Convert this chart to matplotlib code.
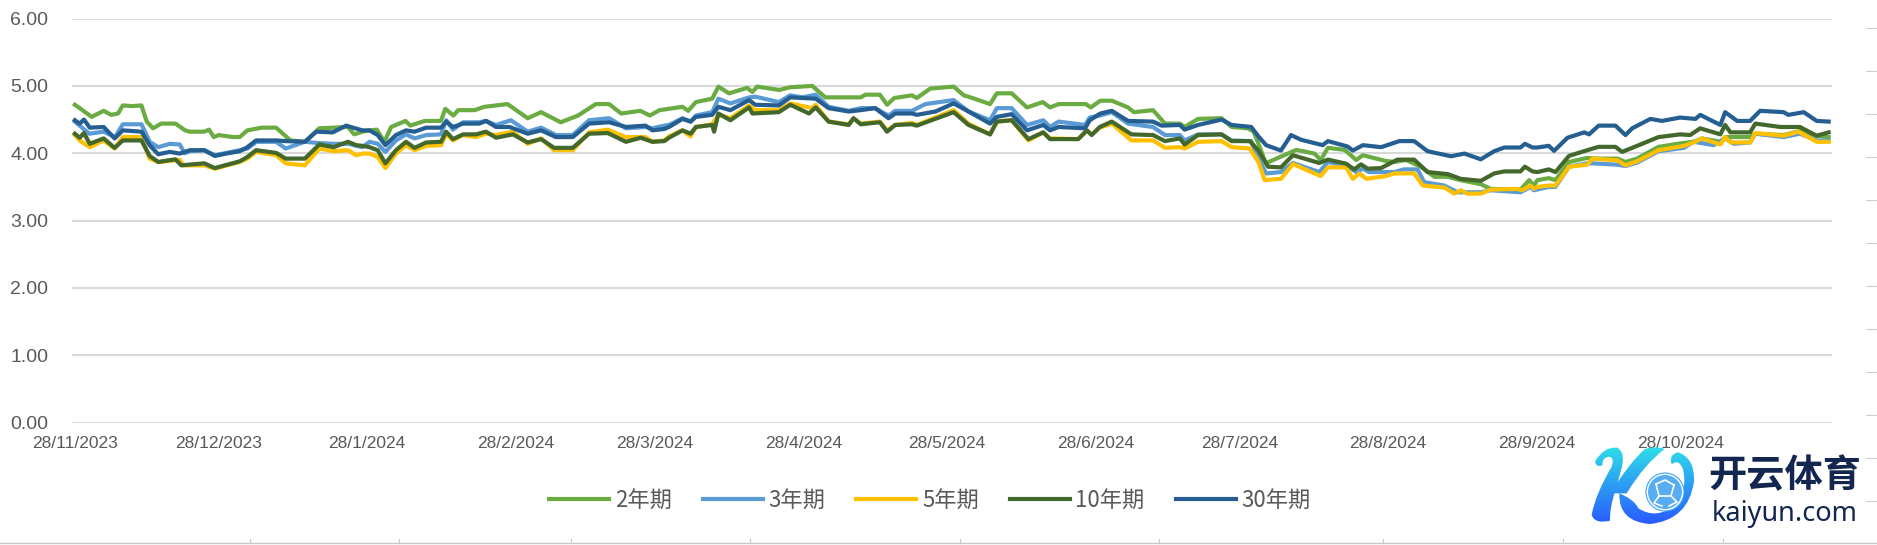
"""
Chinese treasury yields, Nov 2023 - Nov 2024, all tenors on one date axis.
"""
import datetime as dt

import matplotlib
matplotlib.use("Agg")
import matplotlib.dates as mdates
import matplotlib.pyplot as plt
import numpy as np
from matplotlib.lines import Line2D
from matplotlib.patches import Circle, PathPatch
from matplotlib.path import Path

START = dt.date(2023, 11, 28)

# days since START / yield in %
days_2y = [0, 1.4, 3.5, 6, 7.6, 9, 10, 12, 13.9, 15, 16.3, 18, 21, 23, 24, 27, 28, 29, 30, 33, 34.4, 36, 39, 42, 45, 48, 51, 54, 57, 58.3, 60,
           61.5, 63, 64.6, 66, 69, 70, 73, 76.4, 77.3, 79, 80, 83.4, 85.5, 90.3, 94.5, 97.3, 101.4, 105, 108.7, 111.5, 114, 118, 120, 122,
           124, 126.8, 128, 129.6, 133, 134.3, 136.5, 140.3, 141.4, 142.4, 147, 149.3, 153.9, 156.6, 164, 165, 168, 169.5, 171, 174.7, 175.7, 178.5, 183.4, 185.5,
           186.5, 191, 192.4, 195.5, 198.7, 202, 203.5, 205.3, 211, 212, 214, 216.4, 219.8, 221, 225, 227.5, 230.6, 231.6, 234.4, 239.3, 241.4, 244.8, 246, 247.3, 248.5,
           251.7, 254.9, 258.7, 260, 261.5, 265, 267.4, 268.8, 273.6, 275.4, 277.8, 280.9, 283.7, 286.5, 289.2, 293.4, 295.5, 301.7, 303.5, 304.5,
           305.2, 307.6, 309, 311.8, 315.6, 318, 321.9, 323.6, 326, 330.5, 335, 337.8, 339.6, 343.4, 344.4, 346.2, 349.6, 350.7, 356.6, 360, 363.5, 366]
yield_2y = [4.72, 4.65, 4.54, 4.63, 4.57, 4.59, 4.71, 4.70, 4.71, 4.47, 4.37, 4.44, 4.44, 4.34, 4.32, 4.32, 4.35, 4.24, 4.27, 4.24, 4.24, 4.34, 4.38, 4.38, 4.19, 4.17, 4.37, 4.38, 4.39, 4.28, 4.32,
            4.34, 4.35, 4.17, 4.39, 4.48, 4.41, 4.48, 4.48, 4.66, 4.56, 4.64, 4.64, 4.69, 4.73, 4.52, 4.61, 4.46, 4.56, 4.73, 4.73, 4.59, 4.63, 4.56, 4.64,
            4.66, 4.69, 4.63, 4.76, 4.81, 4.99, 4.89, 4.97, 4.91, 4.99, 4.94, 4.98, 5.00, 4.83, 4.83, 4.87, 4.87, 4.72, 4.82, 4.86, 4.82, 4.96, 4.99, 4.86,
            4.84, 4.73, 4.89, 4.89, 4.68, 4.76, 4.68, 4.73, 4.73, 4.68, 4.78, 4.78, 4.68, 4.61, 4.64, 4.44, 4.44, 4.39, 4.51, 4.52, 4.39, 4.37, 4.32, 4.09, 3.85,
            3.95, 4.05, 3.995, 3.90, 4.08, 4.05, 3.90, 3.97, 3.885, 3.87, 3.90, 3.80, 3.65, 3.65, 3.60, 3.54, 3.47, 3.46, 3.60, 3.52,
            3.60, 3.63, 3.60, 3.87, 3.93, 3.92, 3.92, 3.87, 3.92, 4.095, 4.145, 4.17, 4.22, 4.17, 4.24, 4.24, 4.24, 4.29, 4.27, 4.33, 4.26, 4.24]

days_3y = [0, 3, 6, 8.4, 10, 13.9, 15.6, 17.4, 19.8, 21.9, 22.9, 24, 27, 29.2, 34.4, 36, 37.9, 42, 44, 48, 51, 54, 57, 60,
           61.5, 63.2, 64.8, 67, 69.1, 70.9, 73.3, 76.4, 77.5, 78.9, 81, 84.4, 85.8, 87.9, 91, 94.5, 97.3, 100.4, 103.9, 107.3, 111.5, 115, 119.1, 120.5, 123,
           124, 126.8, 128.5, 129.6, 133, 134.3, 136.8, 140.7, 142, 146.9, 149.3, 151.8, 154.6, 157.3, 161.5, 164, 167, 169.8, 171.2, 174.7, 177.5, 183.4, 186.5,
           191, 192.4, 195.5, 198.7, 202.1, 203.5, 205.3, 210.8, 211.8, 213.9, 216.4, 219.8, 225, 227.5, 230.6, 231.6, 234.4, 239.3, 241.4, 245.5,
           246.5, 248.6, 251.7, 254.2, 259.7, 261.5, 265.3, 267.4, 268.8, 270.1, 275.4, 277.4, 280.2, 281.6, 285.8, 288.6, 293.4, 295.5, 301.7, 303.8, 304.5,
           307.6, 309, 311.8, 315.6, 316.7, 321.9, 323.6, 326, 330.5, 335.8, 337.8, 342, 344.4, 346.2, 349.6, 350.7, 356.6, 360, 363.5, 366]
yield_3y = [4.47, 4.29, 4.32, 4.24, 4.43, 4.43, 4.17, 4.09, 4.14, 4.13, 4.00, 4.03, 4.045, 3.97, 4.045, 4.07, 4.17, 4.17, 4.07, 4.17, 4.15, 4.14, 4.14, 4.09,
            4.17, 4.14, 4.02, 4.19, 4.28, 4.22, 4.27, 4.28, 4.49, 4.35, 4.46, 4.46, 4.48, 4.42, 4.49, 4.32, 4.38, 4.27, 4.27, 4.49, 4.52, 4.37, 4.39, 4.37, 4.41,
            4.42, 4.52, 4.47, 4.56, 4.61, 4.81, 4.74, 4.83, 4.84, 4.76, 4.86, 4.83, 4.87, 4.69, 4.63, 4.67, 4.67, 4.56, 4.63, 4.63, 4.73, 4.79, 4.62,
            4.49, 4.67, 4.67, 4.42, 4.49, 4.39, 4.47, 4.42, 4.53, 4.56, 4.61, 4.44, 4.39, 4.27, 4.27, 4.19, 4.28, 4.28, 4.19, 4.18,
            4.00, 3.70, 3.72, 3.855, 3.72, 3.87, 3.82, 3.72, 3.77, 3.72, 3.72, 3.76, 3.76, 3.57, 3.52, 3.42, 3.42, 3.45, 3.42, 3.50, 3.45,
            3.50, 3.50, 3.80, 3.85, 3.85, 3.83, 3.81, 3.86, 4.03, 4.08, 4.17, 4.12, 4.22, 4.14, 4.16, 4.29, 4.24, 4.29, 4.19, 4.19]

days_5y = [0, 1, 3.1, 6, 8.3, 10, 13.9, 15.6, 17.4, 21.9, 22.6, 27, 29.2, 34.4, 36, 37.8, 42, 44, 48, 51, 54, 57, 58.7, 60,
           61.5, 63.2, 64.8, 67, 69.1, 70.9, 73.3, 76.4, 77.5, 78.9, 81, 83.7, 85.8, 87.9, 91.4, 94.5, 97.3, 100, 103.9, 107.3, 111.2, 115, 119.1, 120.5, 123,
           124, 126.8, 128.5, 129.6, 133, 134.3, 136.8, 140.7, 142, 146.9, 149.3, 153.9, 154.6, 157.3, 161.5, 162.5, 164, 168, 169.5, 171.2, 174.7, 175.7, 183.4, 186.5,
           191, 192.4, 195.5, 199, 202.1, 203.5, 209.4, 211.2, 212.2, 213.9, 216.4, 220.5, 225, 227.5, 230.6, 231.6, 234.4, 239.3, 241.4, 245.2, 247,
           248.3, 251.7, 254.2, 260, 261.5, 265.3, 266.7, 268.1, 269.5, 273.6, 275.4, 279.5, 281.3, 285.8, 287.9, 289.2, 290.6, 293.4, 295.5, 301, 302, 303.8, 304.5,
           305.2, 307.6, 309, 311.8, 315.6, 316.7, 321.9, 323.6, 326, 330.5, 335.8, 337.8, 339.6, 343.4, 344.4, 345.5, 349.6, 350.7, 356.6, 359.7, 363.5, 366]
yield_5y = [4.27, 4.19, 4.09, 4.19, 4.07, 4.24, 4.24, 3.92, 3.87, 3.90, 3.82, 3.82, 3.77, 3.87, 3.92, 4.02, 3.97, 3.85, 3.82, 4.07, 4.03, 4.045, 3.97, 3.995,
            3.995, 3.945, 3.78, 3.995, 4.12, 4.045, 4.11, 4.12, 4.29, 4.19, 4.27, 4.24, 4.29, 4.27, 4.32, 4.14, 4.22, 4.045, 4.045, 4.31, 4.35, 4.24, 4.24, 4.17, 4.19,
            4.25, 4.34, 4.25, 4.39, 4.43, 4.57, 4.52, 4.71, 4.64, 4.64, 4.74, 4.67, 4.72, 4.47, 4.43, 4.52, 4.44, 4.47, 4.34, 4.42, 4.45, 4.42, 4.64, 4.44,
            4.28, 4.47, 4.49, 4.19, 4.31, 4.22, 4.21, 4.34, 4.28, 4.38, 4.44, 4.19, 4.19, 4.08, 4.09, 4.07, 4.17, 4.18, 4.09, 4.07, 3.87,
            3.60, 3.62, 3.84, 3.66, 3.79, 3.79, 3.62, 3.70, 3.62, 3.66, 3.70, 3.70, 3.52, 3.49, 3.40, 3.45, 3.40, 3.40, 3.46, 3.47, 3.45, 3.52, 3.47,
            3.50, 3.52, 3.52, 3.80, 3.83, 3.92, 3.895, 3.82, 3.88, 4.045, 4.11, 4.16, 4.22, 4.13, 4.24, 4.16, 4.16, 4.30, 4.26, 4.32, 4.17, 4.17]

days_10y = [0, 1, 1.9, 3.1, 6, 8.3, 10, 13.9, 15.6, 17.4, 21, 22.2, 27, 29.2, 34.4, 36, 37.8, 42, 44, 48, 51, 54, 57, 58.7, 60,
            61.5, 63.2, 64.8, 67, 69.1, 70.9, 73.3, 76.4, 77.5, 78.9, 81, 83.7, 85.8, 87.9, 91.4, 94.5, 97.3, 100, 103.9, 107.3, 111.2, 115, 118.1, 120.5, 123,
            124, 126.8, 128.5, 129.6, 133, 133.4, 134.3, 136.8, 140.7, 141.4, 146.9, 149.3, 153.2, 154.6, 157.3, 161.5, 162.5, 164, 168, 169.5, 171.2, 174.7, 175.7, 183.4, 186.5,
            191, 192.4, 195.5, 199, 202.1, 203.5, 209.4, 211.2, 212.2, 213.9, 216.4, 220.5, 225, 227.5, 230.6, 231.6, 234.4, 239.3, 241.4, 245.2, 247,
            249, 251.7, 254.2, 259.7, 261.5, 265.3, 267, 268.4, 269.8, 272.6, 276, 279.5, 282.3, 286.5, 289.2, 293.4, 296.2, 298.3, 301.7, 302.6, 304.2,
            305.2, 307.6, 309, 311.8, 315.6, 318, 321.5, 322.9, 325, 330.5, 335, 337.1, 339.2, 343.4, 344.4, 345.5, 349.6, 350.7, 355.9, 360, 363.5, 366]
yield_10y = [4.29, 4.23, 4.30, 4.14, 4.22, 4.08, 4.19, 4.19, 3.96, 3.87, 3.91, 3.82, 3.85, 3.78, 3.88, 3.945, 4.045, 4.005, 3.92, 3.92, 4.13, 4.09, 4.17, 4.12, 4.11,
             4.09, 4.045, 3.85, 4.045, 4.17, 4.08, 4.16, 4.17, 4.32, 4.21, 4.28, 4.28, 4.32, 4.23, 4.28, 4.16, 4.21, 4.08, 4.08, 4.29, 4.30, 4.17, 4.23, 4.17, 4.18,
             4.23, 4.34, 4.29, 4.39, 4.42, 4.32, 4.59, 4.49, 4.68, 4.59, 4.61, 4.72, 4.59, 4.68, 4.47, 4.42, 4.52, 4.43, 4.46, 4.32, 4.42, 4.43, 4.41, 4.61, 4.42,
             4.28, 4.47, 4.49, 4.21, 4.31, 4.21, 4.21, 4.34, 4.27, 4.39, 4.47, 4.28, 4.27, 4.18, 4.22, 4.13, 4.27, 4.28, 4.18, 4.18, 4.04,
             3.80, 3.79, 3.97, 3.855, 3.905, 3.845, 3.76, 3.835, 3.77, 3.78, 3.905, 3.905, 3.72, 3.69, 3.62, 3.59, 3.70, 3.73, 3.73, 3.80, 3.73,
             3.72, 3.76, 3.72, 3.96, 4.045, 4.095, 4.095, 4.02, 4.08, 4.24, 4.28, 4.27, 4.37, 4.28, 4.42, 4.31, 4.31, 4.44, 4.39, 4.39, 4.26, 4.31]

days_30y = [0, 1, 1.9, 3.1, 6, 8.3, 10, 12, 13.9, 15.6, 17.4, 19.8, 21.9, 24, 27, 29.2, 31.6, 34.4, 36, 37.8, 42, 44, 48, 50.4, 53.8, 56.6, 60,
            61.5, 63.2, 64.8, 67, 69.1, 70.9, 73.3, 76.4, 77.5, 78.9, 81, 84.4, 85.8, 87.9, 90.7, 94.5, 97.3, 100.4, 103.9, 107.3, 111.5, 115, 119.1, 120.5, 123,
            124, 126.8, 128.5, 129.6, 133, 134.3, 136.8, 140.7, 142, 146.9, 149.3, 154.6, 157.3, 161.5, 164, 167, 169.8, 171.2, 174.7, 175.7, 179.6, 183.4, 186.5,
            191, 192.4, 195.5, 198.7, 202.1, 203.5, 205.3, 210.8, 211.8, 214, 216.4, 219.8, 225, 226.8, 230.6, 231.6, 234.4, 239.3, 241.4, 245.5, 247,
            248.6, 251.7, 253.8, 255.9, 260.4, 261.5, 265.6, 266.7, 268.8, 272.6, 276.4, 279.5, 282.3, 287.2, 290, 293.4, 296.2, 298.3, 301.7, 302.6, 304.2,
            305.2, 307.6, 308.7, 311.5, 315, 316, 318, 321.5, 323.6, 325, 328.8, 331.2, 335, 338.2, 339.2, 343.4, 344.4, 346.9, 349.6, 351.7, 356.6, 357.6, 360.8, 363.5, 366]
yield_30y = [4.49, 4.44, 4.50, 4.38, 4.39, 4.22, 4.34, 4.33, 4.32, 4.12, 3.985, 4.02, 3.995, 4.045, 4.045, 3.96, 3.995, 4.03, 4.09, 4.19, 4.19, 4.18, 4.17, 4.32, 4.31, 4.41, 4.34,
             4.34, 4.27, 4.12, 4.27, 4.34, 4.32, 4.38, 4.38, 4.47, 4.39, 4.44, 4.44, 4.48, 4.39, 4.39, 4.29, 4.34, 4.24, 4.24, 4.44, 4.46, 4.39, 4.41, 4.34, 4.36,
             4.39, 4.51, 4.47, 4.54, 4.57, 4.69, 4.64, 4.79, 4.72, 4.71, 4.83, 4.81, 4.67, 4.62, 4.64, 4.67, 4.52, 4.59, 4.59, 4.57, 4.62, 4.74, 4.62,
             4.44, 4.54, 4.58, 4.34, 4.42, 4.34, 4.39, 4.37, 4.49, 4.59, 4.63, 4.48, 4.47, 4.41, 4.42, 4.35, 4.42, 4.50, 4.42, 4.39, 4.25,
             4.12, 4.04, 4.27, 4.20, 4.12, 4.18, 4.10, 4.04, 4.12, 4.09, 4.18, 4.18, 4.03, 3.955, 3.995, 3.91, 4.03, 4.085, 4.085, 4.14, 4.085,
             4.085, 4.11, 4.035, 4.23, 4.31, 4.28, 4.41, 4.41, 4.27, 4.37, 4.51, 4.48, 4.53, 4.51, 4.57, 4.42, 4.61, 4.48, 4.48, 4.63, 4.61, 4.57, 4.61, 4.48, 4.47]

series_names = ["2年期", "3年期", "5年期", "10年期", "30年期"]
series_days = [days_2y, days_3y, days_5y, days_10y, days_30y]
series_yields = [yield_2y, yield_3y, yield_5y, yield_10y, yield_30y]
series_colors = ["#6AAB42", "#5B9BD5", "#FFC000", "#43682B", "#255E91"]

y_ticks = [0, 1, 2, 3, 4, 5, 6]
date_labels = ["28/11/2023", "28/12/2023", "28/1/2024", "28/2/2024", "28/3/2024", "28/4/2024",
               "28/5/2024", "28/6/2024", "28/7/2024", "28/8/2024", "28/9/2024", "28/10/2024"]

W, H = 1877, 545
TEXT = "#595959"
CJK = ["Noto Sans CJK SC", "DejaVu Sans"]

fig = plt.figure(figsize=(W / 100, H / 100), dpi=100, facecolor="white")
ax = fig.add_axes([72 / W, 1 - 422.5 / H, (1832 - 72) / W, (422.5 - 18.6) / H])

x0 = mdates.date2num(START)
for d, v, name, color in zip(series_days, series_yields, series_names, series_colors):
    ax.plot(x0 + np.array(d), v, color=color, lw=3.0, label=name, solid_joinstyle="round", clip_on=False, zorder=3)

ax.set_xlim(x0 - 0.6, x0 + 366.7)
ax.set_ylim(0, 6)
ax.set_yticks(y_ticks)
ax.set_yticklabels([f"{t:.2f}" for t in y_ticks], fontsize=14, color=TEXT, family="Liberation Sans")
tick_pos = [mdates.date2num(dt.datetime.strptime(s, "%d/%m/%Y")) for s in date_labels]
ax.set_xticks(tick_pos)
ax.set_xticklabels(date_labels, fontsize=12.5, color=TEXT, family="Liberation Sans")
ax.tick_params(axis="y", length=0, pad=17)
ax.tick_params(axis="x", length=0, pad=10)
ax.grid(axis="y", color="#D9D9D9", lw=1.5)
ax.set_axisbelow(True)
for s in ax.spines.values():
    s.set_visible(False)

ax.legend(loc="center", bbox_to_anchor=(930 / W, 1 - 500 / H), bbox_transform=fig.transFigure, ncol=5,
          frameon=False, handlelength=2.7, handletextpad=0.25, columnspacing=1.4,
          prop={"family": CJK, "size": 16}, labelcolor=TEXT)

# overlay in picture pixels: edge ruler from the screenshot and the site watermark
ov = fig.add_axes([0, 0, 1, 1], zorder=5)
ov.set_axis_off()
ov.patch.set_alpha(0)

ruler_x = [250, 399, 571, 750, 960, 1159, 1383, 1563, 1723]
ruler_y = [28, 71, 114, 157, 200, 243, 286, 329, 372, 415, 458, 501]
ov.add_line(Line2D([0, W], [543, 543], color="#C8C8C8", lw=1))
for px in ruler_x:
    ov.add_line(Line2D([px, px], [539, 543], color="#C8C8C8", lw=0.8))
for py in ruler_y:
    ov.add_line(Line2D([1866, W], [py, py], color="#D0D0D0", lw=0.8))


def logo_path(cmds):
    # coordinates are in 3x crop units around (1560, 425)
    verts, codes = [], []
    for code, pts in cmds:
        for px, py in pts:
            verts.append((1560 + px / 3, 425 + py / 3))
            codes.append(code)
    return verts, codes


M, Q, L = Path.MOVETO, Path.CURVE3, Path.LINETO
stem = [(M, [(105, 110)]), (Q, [(130, 65), (172, 68)]), (Q, [(200, 85), (182, 140)]), (L, [(168, 190)]),
        (Q, [(148, 250), (150, 287)]), (Q, [(105, 298), (95, 270)]), (Q, [(105, 210), (155, 125)]),
        (Q, [(165, 95), (145, 95)]), (Q, [(125, 100), (128, 120)]), (Q, [(110, 130), (105, 110)])]
arm = [(M, [(150, 205)]), (Q, [(215, 105), (255, 72)]), (Q, [(290, 62), (314, 72)]), (Q, [(255, 115), (200, 205)]),
       (L, [(150, 205)])]
swoosh = [(M, [(178, 205)]), (Q, [(225, 225), (235, 250)]), (Q, [(290, 285), (345, 240)]), (Q, [(385, 190), (368, 130)]),
          (Q, [(355, 100), (335, 118)]), (Q, [(325, 88), (355, 82)]), (Q, [(405, 100), (402, 170)]),
          (Q, [(385, 285), (270, 297)]), (Q, [(175, 290), (178, 205)])]
all_verts, all_codes = [], []
for part in (stem, arm, swoosh):
    v, c = logo_path(part)
    all_verts += v
    all_codes += c

cyan, blue = np.array([0.18, 0.88, 0.91]), np.array([0.16, 0.35, 1.0])
t = np.linspace(0, 1, 64)[:, None, None]
grad = (1 - t) * cyan[None, None, :] + t * blue[None, None, :]
im = ov.imshow(grad, extent=[1590, 1700, 525, 445], aspect="auto", interpolation="bilinear", zorder=6)
clip = PathPatch(Path(all_verts, all_codes), transform=ov.transData, fc="none", ec="none")
ov.add_patch(clip)
im.set_clip_path(clip)

ov.add_patch(Circle((1665, 492), 19, fc="white", ec="#3FA4F5", lw=0.8, zorder=7))
ov.add_patch(Circle((1665, 492), 17, fc="#58ADF2", ec="none", zorder=7))
ball_lines = [([1656, 1665, 1674], [484, 480, 485]), ([1656, 1659, 1671, 1674], [484, 496, 496, 485]),
              ([1659, 1654, 1662], [496, 503, 506]), ([1671, 1677, 1669], [496, 502, 506])]
for bx, by in ball_lines:
    ov.add_line(Line2D(bx, by, color="white", lw=1.2, zorder=8))

ov.text(1785, 475.5, "开云体育", family=CJK, weight="bold", fontsize=27.5, color="#12264F",
        ha="center", va="center", zorder=8)
ov.text(1785, 514, "kaiyun.com", family="Noto Sans", fontsize=19.5, color="#12264F",
        ha="center", va="center", zorder=8)

ov.set_xlim(0, W)
ov.set_ylim(H, 0)

plt.savefig("out.png", dpi=100)
